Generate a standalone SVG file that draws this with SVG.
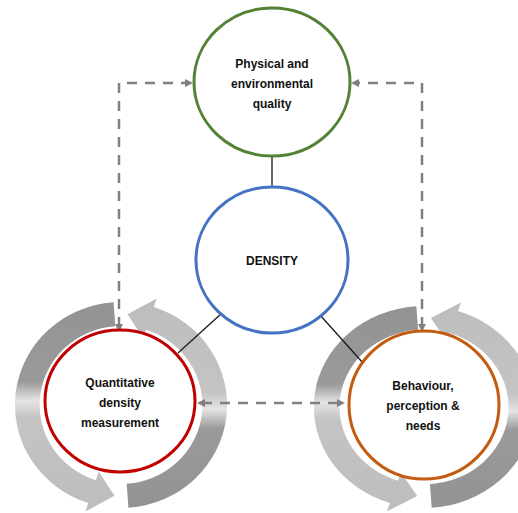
<svg xmlns="http://www.w3.org/2000/svg" xmlns:xlink="http://www.w3.org/1999/xlink" width="518" height="513" viewBox="0 0 518 513">
  <style>
    .node { fill: #ffffff; stroke-width: 3; }
    .lbl { font-family: "Liberation Sans", Arial, sans-serif; font-weight: bold; font-size: 12px; fill: #111111; text-anchor: middle; }
    .solid { stroke: #1a1a1a; stroke-width: 1.3; fill: none; }
    .dash { stroke: #808080; stroke-width: 2.5; fill: none; stroke-dasharray: 10 8; marker-start: url(#ah); marker-end: url(#ah); }
  </style>
  <defs>
    <linearGradient id="gA" x1="0" y1="1" x2="0" y2="0">
      <stop offset="0" stop-color="#939393"/>
      <stop offset="0.38" stop-color="#9a9a9a"/>
      <stop offset="0.47" stop-color="#e4e4e4"/>
      <stop offset="0.55" stop-color="#c4c4c4"/>
      <stop offset="1" stop-color="#bdbdbd"/>
    </linearGradient>
    <path id="arrA" fill="url(#gA)" d="M7.19 102.75 A103 103 0 0 0 31.83 -97.96 L34.61 -106.52 L6.35 -90.78 L21.63 -66.57 L24.41 -75.13 A79 79 0 0 1 5.51 78.81 Z"/>
    <marker id="ah" viewBox="0 0 8 8" markerWidth="8" markerHeight="8" refX="3" refY="4" orient="auto-start-reverse" markerUnits="userSpaceOnUse">
      <path d="M0 0 L8 4 L0 8 Z" fill="#808080"/>
    </marker>
  </defs>

  <g id="cycle-left" transform="translate(121,405) scale(1.03,1)">
    <use xlink:href="#arrA" href="#arrA"/>
    <use xlink:href="#arrA" href="#arrA" transform="rotate(180)"/>
  </g>
  <g id="cycle-right" transform="translate(424,407) scale(1.07,0.98)">
    <use xlink:href="#arrA" href="#arrA"/>
    <use xlink:href="#arrA" href="#arrA" transform="rotate(180)"/>
  </g>

  <g id="connectors">
    <line class="solid" x1="272" y1="156" x2="272" y2="187"/>
    <line class="solid" x1="222" y1="313" x2="178" y2="353"/>
    <line class="solid" x1="320" y1="315" x2="363" y2="363"/>
    <path class="dash" d="M119 327 V83 H188"/>
    <path class="dash" d="M422 327 V83 H356"/>
    <path class="dash" d="M202 403 H340"/>
  </g>

  <g id="node-physical">
    <ellipse class="node" cx="272" cy="82" rx="78" ry="74" stroke="#548235"/>
    <text class="lbl" x="272" y="68">Physical and</text>
    <text class="lbl" x="272" y="88">environmental</text>
    <text class="lbl" x="272" y="108">quality</text>
  </g>
  <g id="node-density">
    <ellipse class="node" cx="272" cy="260" rx="76" ry="73" stroke="#4472c4"/>
    <text class="lbl" x="272" y="265">DENSITY</text>
  </g>
  <g id="node-quantitative">
    <ellipse class="node" cx="120" cy="401" rx="75" ry="71" stroke="#c00000"/>
    <text class="lbl" x="120" y="387">Quantitative</text>
    <text class="lbl" x="120" y="407">density</text>
    <text class="lbl" x="120" y="427">measurement</text>
  </g>
  <g id="node-behaviour">
    <ellipse class="node" cx="424" cy="405" rx="75" ry="74" stroke="#c55a11"/>
    <text class="lbl" x="423" y="390">Behaviour,</text>
    <text class="lbl" x="423" y="410">perception &amp;</text>
    <text class="lbl" x="423" y="430">needs</text>
  </g>
</svg>
